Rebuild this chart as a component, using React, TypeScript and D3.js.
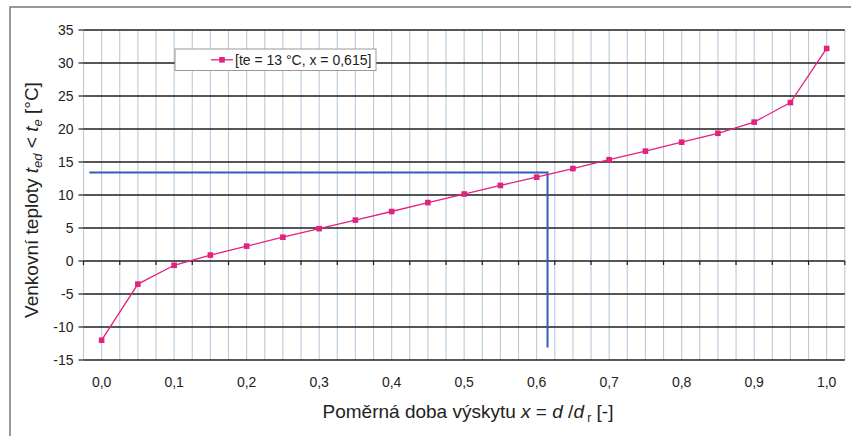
import React from "react";
import * as d3 from "d3";

const categories = [0, 0.05, 0.1, 0.15, 0.2, 0.25, 0.3, 0.35, 0.4, 0.45, 0.5, 0.55, 0.6, 0.65, 0.7, 0.75, 0.8, 0.85, 0.9, 0.95, 1.0];
const temps = [-12, -3.5, -0.65, 0.9, 2.25, 3.6, 4.9, 6.2, 7.5, 8.85, 10.15, 11.45, 12.7, 14.0, 15.35, 16.65, 18.0, 19.35, 21.05, 24.0, 32.2];
const yTicks = [-15, -10, -5, 0, 5, 10, 15, 20, 25, 30, 35];
const xTickLabels = [0, 0.1, 0.2, 0.3, 0.4, 0.5, 0.6, 0.7, 0.8, 0.9, 1.0];
const markerX = [-0.017, 0.615];
const markerY = [13.4, -13.1];
const legendText = "[te = 13 °C, x = 0,615]";

const W = 851, H = 436;
const left = 83.5, right = 844.8, top = 30, bottom = 360;

export default function App() {
  const x = d3.scaleLinear().domain([-0.025, 1.025]).range([left, right]);
  const y = d3.scaleLinear().domain([-15, 35]).range([bottom, top]);
  const vGrid = d3.range(0, 43).map((i) => -0.025 + i * 0.025);
  const line = d3.line<number>().x((_, i) => x(categories[i])).y((d) => y(d));
  const pink = "#e3217f";
  const blue = "#2f5fb3";
  const fmt = (v: number) => v.toFixed(1).replace(".", ",");
  const tickPos = d3.range(0, 22).map((i) => -0.025 + i * 0.05);

  return (
    <svg width={W} height={H} style={{ position: "absolute", left: 0, top: 0, background: "#fff" }} fontFamily="'Liberation Sans', Arial, sans-serif">
      <rect x={10} y={7} width={W} height={H} fill="#fff" stroke="#777" strokeWidth={1.5} />
      {vGrid.map((v, i) => (
        <line key={"v" + i} x1={x(v)} x2={x(v)} y1={top} y2={bottom} stroke="#b8cadb" strokeWidth={1.1} />
      ))}
      {yTicks.map((t) => (
        <g key={"y" + t}>
          <line x1={left} x2={right} y1={y(t)} y2={y(t)} stroke="#1e1e1e" strokeWidth={1.5} />
          <line x1={left - 5} x2={left} y1={y(t)} y2={y(t)} stroke="#1e1e1e" strokeWidth={1.2} />
          <text x={left - 10} y={y(t)} dy="0.36em" textAnchor="end" fontSize={14} fill="#222">{t}</text>
        </g>
      ))}
      {tickPos.map((t, i) => (
        <line key={"t" + i} x1={x(t)} x2={x(t)} y1={y(0)} y2={y(0) + 4} stroke="#1e1e1e" strokeWidth={1.2} />
      ))}
      {xTickLabels.map((t) => (
        <text key={"x" + t} x={x(t)} y={387} textAnchor="middle" fontSize={14} fill="#222">{fmt(t)}</text>
      ))}
      <polyline
        points={`${x(markerX[0])},${y(markerY[0])} ${x(markerX[1])},${y(markerY[0])} ${x(markerX[1])},${y(markerY[1])}`}
        fill="none" stroke={blue} strokeWidth={2} />
      <path d={line(temps) || ""} fill="none" stroke={pink} strokeWidth={1.3} />
      {temps.map((v, i) => (
        <rect key={"m" + i} x={x(categories[i]) - 2.8} y={y(v) - 2.8} width={5.6} height={5.6} fill={pink} />
      ))}
      <g>
        <rect x={175} y={49} width={201} height={21.5} fill="#fff" stroke="#9a9a9a" strokeWidth={1} />
        <line x1={211} x2={233} y1={59.8} y2={59.8} stroke={pink} strokeWidth={1.3} />
        <rect x={219.2} y={57} width={5.6} height={5.6} fill={pink} />
        <text x={235} y={59.8} dy="0.36em" fontSize={14} fill="#222">{legendText}</text>
      </g>
      <text transform={`translate(38,${(top + bottom) / 2 + 5}) rotate(-90)`} textAnchor="middle" fontSize={19} fill="#222">
        Venkovní teploty <tspan fontStyle="italic">t</tspan><tspan fontStyle="italic" fontSize={13} dy={4}>ed</tspan><tspan dy={-4}> &lt; </tspan><tspan fontStyle="italic">t</tspan><tspan fontStyle="italic" fontSize={13} dy={4}>e</tspan><tspan dy={-4}> [°C]</tspan>
      </text>
      <text x={468} y={418} textAnchor="middle" fontSize={19} fill="#222">
        Poměrná doba výskytu <tspan fontStyle="italic">x</tspan> = <tspan fontStyle="italic">d</tspan> /<tspan fontStyle="italic">d</tspan><tspan fontSize={12} dy={4}> r</tspan><tspan dy={-4}> [-]</tspan>
      </text>
    </svg>
  );
}
